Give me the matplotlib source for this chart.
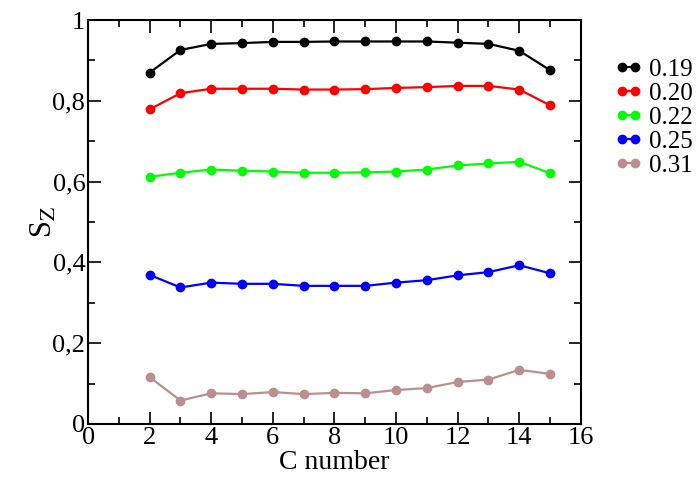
import matplotlib
matplotlib.use("Agg")
import matplotlib.pyplot as plt
from matplotlib.ticker import MultipleLocator, FuncFormatter

plt.rcParams['font.family'] = ['Liberation Serif', 'DejaVu Serif']
plt.rcParams['mathtext.fontset'] = 'stix'

# C number on the x axis
c_number = [2, 3, 4, 5, 6, 7, 8, 9, 10, 11, 12, 13, 14, 15]

# S_Z values for each series
s_019 = [0.870, 0.926, 0.941, 0.943, 0.946, 0.946, 0.947, 0.947, 0.947, 0.947, 0.944, 0.941, 0.924, 0.876]
s_020 = [0.779, 0.819, 0.830, 0.830, 0.830, 0.828, 0.828, 0.829, 0.832, 0.834, 0.837, 0.837, 0.828, 0.789]
s_022 = [0.612, 0.622, 0.630, 0.627, 0.625, 0.622, 0.622, 0.623, 0.625, 0.630, 0.640, 0.645, 0.649, 0.621]
s_025 = [0.369, 0.338, 0.350, 0.347, 0.347, 0.342, 0.342, 0.342, 0.350, 0.356, 0.368, 0.376, 0.393, 0.373]
s_031 = [0.116, 0.058, 0.076, 0.074, 0.079, 0.074, 0.077, 0.076, 0.084, 0.089, 0.104, 0.110, 0.134, 0.124]

labels = ["0.19", "0.20", "0.22", "0.25", "0.31"]
colors = ["black", "#ff0000", "#00ff00", "#0000ff", "#bc8f8f"]

fig = plt.figure(figsize=(6.99, 4.78), dpi=100)
ax = fig.add_axes([0.126, 0.113, 0.705, 0.845])

for ys, lab, col in zip([s_019, s_020, s_022, s_025, s_031], labels, colors):
    ax.plot(c_number, ys, '-o', color=col, lw=1.6, ms=6, label=lab)

ax.set_xlim(0, 16)
ax.set_ylim(0, 1)
ax.xaxis.set_major_locator(MultipleLocator(2))
ax.xaxis.set_minor_locator(MultipleLocator(1))
ax.yaxis.set_major_locator(MultipleLocator(0.2))
ax.yaxis.set_minor_locator(MultipleLocator(0.1))

# comma decimals like the original
def fmt(v, pos):
    s = "%g" % round(v, 2)
    return s.replace(".", ",")
ax.yaxis.set_major_formatter(FuncFormatter(fmt))

ax.tick_params(which='both', direction='in', top=True, right=True, labelsize=19, width=1.2)
ax.tick_params(which='major', length=9, pad=2)
ax.tick_params(which='minor', length=5)
for sp in ax.spines.values():
    sp.set_linewidth(1.5)

ax.set_xlabel("C number", fontsize=20, labelpad=1)
ax.set_ylabel(r"S$_{\mathrm{Z}}$", fontsize=22)
ax.yaxis.set_label_coords(-0.06, 0.5)

ax.legend(loc='upper left', bbox_to_anchor=(1.069, 0.906), frameon=False, numpoints=2,
          fontsize=18, handlelength=1.1, handletextpad=0.25, labelspacing=0.06,
          borderaxespad=0, borderpad=0)

plt.savefig("out.png", dpi=100)
